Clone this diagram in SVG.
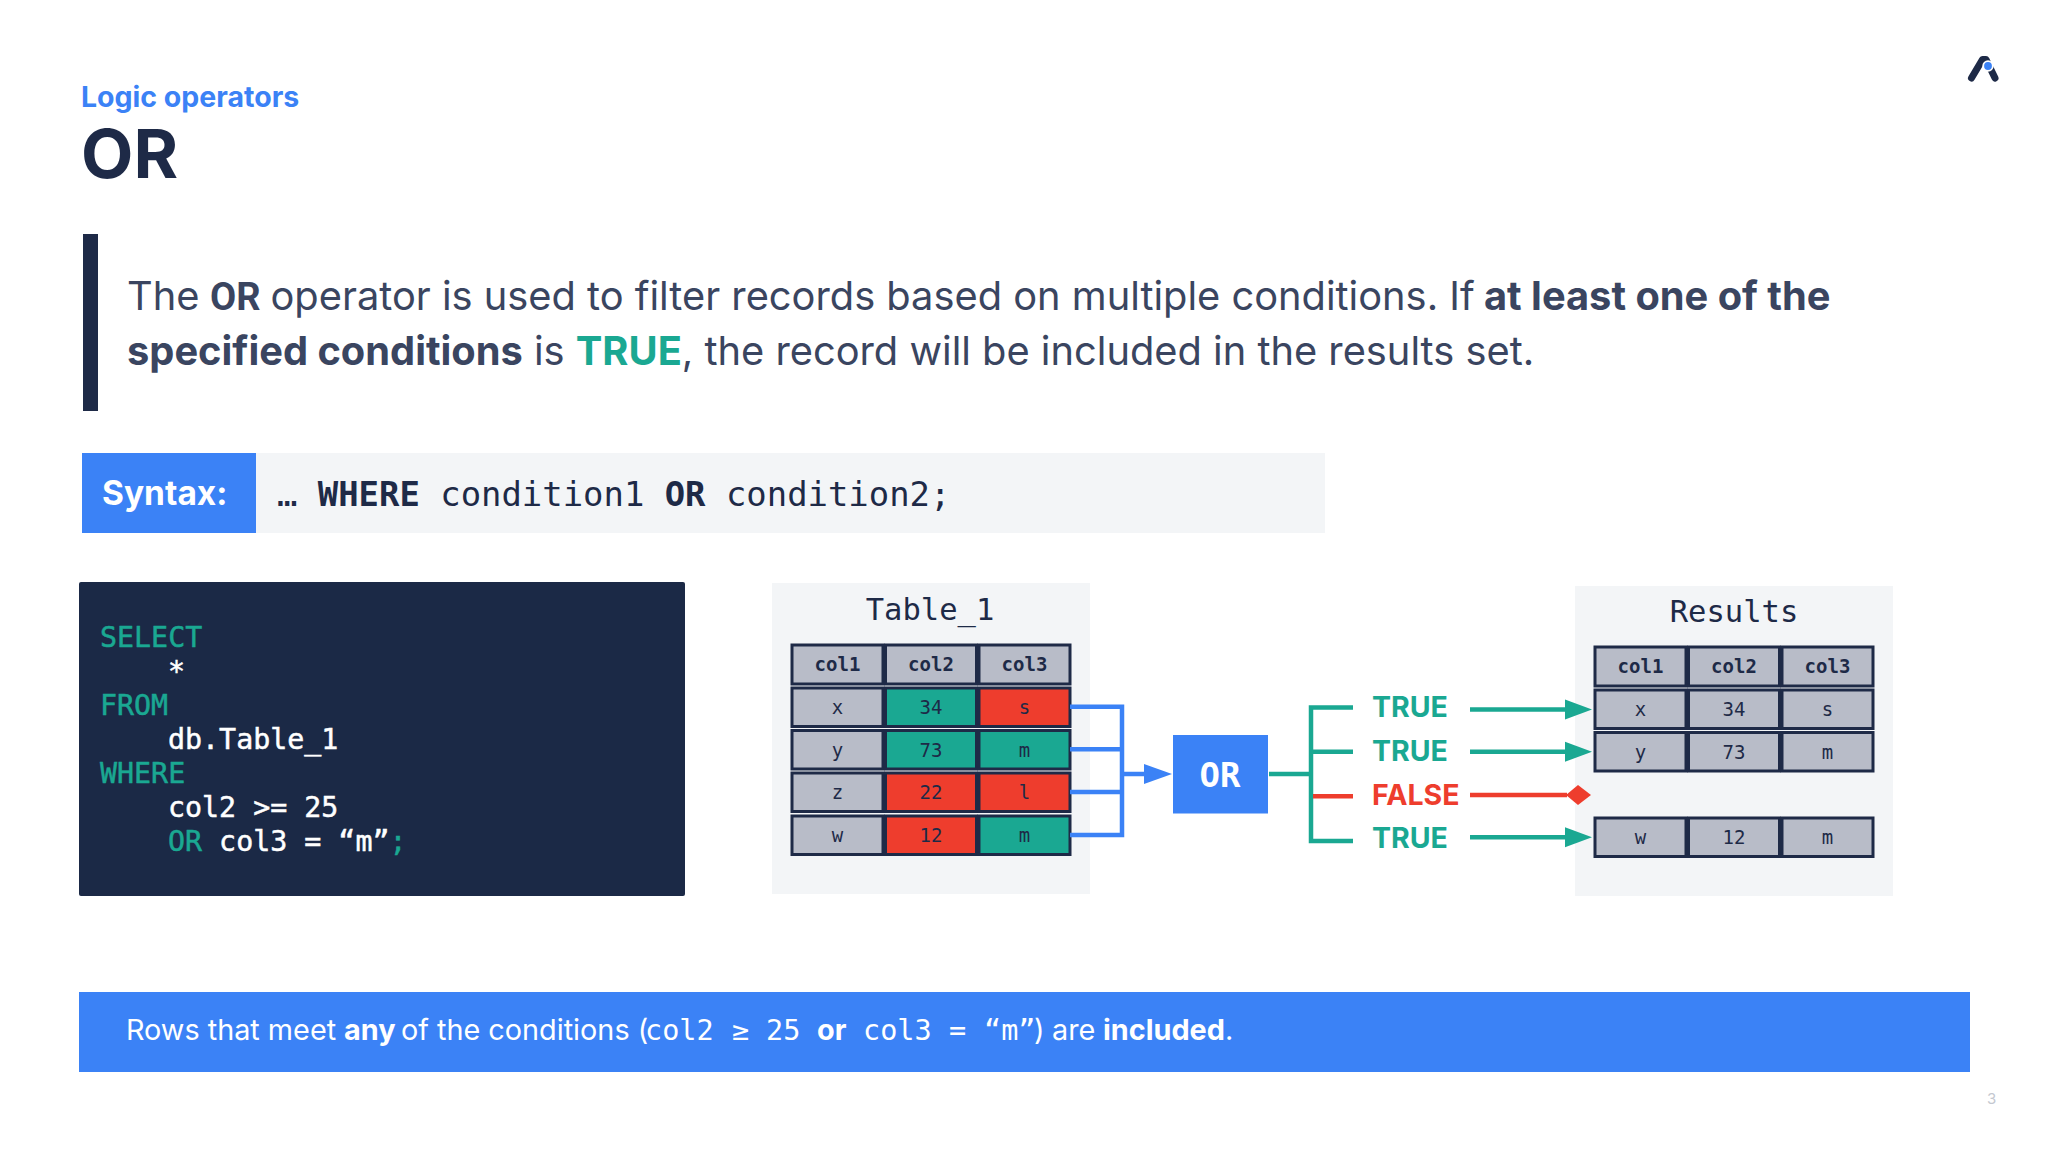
<svg xmlns="http://www.w3.org/2000/svg" width="2048" height="1152" viewBox="0 0 2048 1152">
<style>
text{font-family:Inter,"Liberation Sans",sans-serif}
text.m,.m text,.m{font-family:"DejaVu Sans Mono","Liberation Mono",monospace}
.rb{font-family:Roboto,"Liberation Sans",sans-serif;font-size:38px}
.b{font-weight:700}
.dk{fill:#1e2a47}
.gr{fill:#1aa892}
.rd{fill:#ee3d2d}
.wh{fill:#fff}
.panel{fill:#f3f5f7}
.c{stroke:#1e2a47;stroke-width:3}
.cg{fill:#b8bcc8}
.ct{fill:#1aa892}
.cr{fill:#ee3d2d}
.th{font-size:19px;font-weight:700;text-anchor:middle;fill:#1e2a47}
.td{font-size:19px;text-anchor:middle;fill:#1e2a47}
.pt{font-size:30.500px;text-anchor:middle;fill:#1e2a47}
.para{font-size:39.800px;fill:#3a4560}
.code{font-size:28.3px;stroke-width:.5px}
.code .gr{stroke:#1aa892}
.code .wh{stroke:#fff}
.tf{font-size:28.500px;font-weight:700}
.bar{font-size:28.800px;fill:#fff}
.bm{font-size:28.500px}
.l{fill:none;stroke-width:4.5}
</style>
<defs>
<marker id="hb" markerUnits="userSpaceOnUse" markerWidth="28" markerHeight="22" refX="1" refY="11" orient="auto"><path d="M0 1L28 11L0 21Z" fill="#3b82f6"/></marker>
<marker id="hg" markerUnits="userSpaceOnUse" markerWidth="28" markerHeight="22" refX="1" refY="11" orient="auto"><path d="M0 1L27 11L0 21Z" fill="#1aa892"/></marker>
<marker id="hr" markerUnits="userSpaceOnUse" markerWidth="26" markerHeight="22" refX="1" refY="11" orient="auto"><path d="M0 11L12 1L25 11L12 21Z" fill="#ee3d2d"/></marker>
</defs>
<rect width="2048" height="1152" fill="#fff"/>
<g id="header">
<text x="81" y="107" font-size="28.5" class="b" fill="#3b82f6">Logic operators</text>
<text x="81" y="178" font-size="68" class="b dk">OR</text>
</g>
<g id="logo" fill="none" stroke-linecap="round">
<path d="M1971.5 78L1982.500 59.500H1986L1995 78" stroke="#1e2a47" stroke-width="7" stroke-linejoin="round"/>
<circle cx="1988" cy="66" r="4.800" fill="#3b82f6" stroke="#fff" stroke-width="1.800"/>
</g>
<g id="intro">
<rect x="83" y="234" width="15" height="177" class="dk"/>
<text y="310" class="para"><tspan x="127">The</tspan><tspan x="210" class="b rb">OR</tspan><tspan x="270.500">operator is used to filter records based on multiple conditions. If</tspan><tspan x="1484" class="b">at least one of the</tspan></text>
<text x="127" y="365" class="para"><tspan class="b">specified conditions</tspan> is <tspan class="b gr">TRUE</tspan>, the record will be included in the results set.</text>
</g>
<g id="syntax">
<rect x="256" y="453" width="1069" height="80" class="panel"/>
<rect x="82" y="453" width="174" height="80" fill="#3b82f6"/>
<text x="102" y="505" font-size="33.500" class="b wh">Syntax:</text>
<text x="277" y="506" font-size="33.900" class="m dk" xml:space="preserve">… <tspan class="b">WHERE</tspan> condition1 <tspan class="b">OR</tspan> condition2;</text>
</g>
<g id="code">
<rect x="79" y="582" width="606" height="314" rx="2" fill="#1b2946"/>
<g class="m code">
<text x="100" y="647" class="gr">SELECT</text>
<text x="168" y="681" class="wh">*</text>
<text x="100" y="715" class="gr">FROM</text>
<text x="168" y="749" class="wh">db.Table_1</text>
<text x="100" y="783" class="gr">WHERE</text>
<text x="168" y="817" class="wh">col2 &gt;= 25</text>
<text x="168" y="851" class="wh" xml:space="preserve"><tspan class="gr">OR</tspan> col3 = “m”<tspan class="gr">;</tspan></text>
</g>
</g>
<g id="table-1">
<rect x="772" y="583" width="318" height="311" class="panel"/>
<text x="930" y="620" class="m pt">Table_1</text>
<g class="c">
<rect x="792" y="645" width="91" height="39" class="cg"/><rect x="885.500" y="645" width="91" height="39" class="cg"/><rect x="979" y="645" width="91" height="39" class="cg"/>
<rect x="792" y="688" width="91" height="38.500" class="cg"/><rect x="885.500" y="688" width="91" height="38.500" class="ct"/><rect x="979" y="688" width="91" height="38.500" class="cr"/>
<rect x="792" y="730.500" width="91" height="38.500" class="cg"/><rect x="885.500" y="730.500" width="91" height="38.500" class="ct"/><rect x="979" y="730.500" width="91" height="38.500" class="ct"/>
<rect x="792" y="773" width="91" height="38.500" class="cg"/><rect x="885.500" y="773" width="91" height="38.500" class="cr"/><rect x="979" y="773" width="91" height="38.500" class="cr"/>
<rect x="792" y="816" width="91" height="38.500" class="cg"/><rect x="885.500" y="816" width="91" height="38.500" class="cr"/><rect x="979" y="816" width="91" height="38.500" class="ct"/>
</g>
<g class="m">
<text x="837.500" y="671" class="th">col1</text><text x="931" y="671" class="th">col2</text><text x="1024.500" y="671" class="th">col3</text>
<text x="837.500" y="714" class="td">x</text><text x="931" y="714" class="td">34</text><text x="1024.500" y="714" class="td">s</text>
<text x="837.500" y="757" class="td">y</text><text x="931" y="757" class="td">73</text><text x="1024.500" y="757" class="td">m</text>
<text x="837.500" y="799" class="td">z</text><text x="931" y="799" class="td">22</text><text x="1024.500" y="799" class="td">l</text>
<text x="837.500" y="842" class="td">w</text><text x="931" y="842" class="td">12</text><text x="1024.500" y="842" class="td">m</text>
</g>
</g>
<g id="results">
<rect x="1575" y="586" width="318" height="310" class="panel"/>
<text x="1734" y="622" class="m pt">Results</text>
<g class="c cg">
<rect x="1595" y="647" width="91" height="39"/><rect x="1688.500" y="647" width="91" height="39"/><rect x="1782" y="647" width="91" height="39"/>
<rect x="1595" y="690" width="91" height="38.500"/><rect x="1688.500" y="690" width="91" height="38.500"/><rect x="1782" y="690" width="91" height="38.500"/>
<rect x="1595" y="732.500" width="91" height="38.500"/><rect x="1688.500" y="732.500" width="91" height="38.500"/><rect x="1782" y="732.500" width="91" height="38.500"/>
<rect x="1595" y="818" width="91" height="38.500"/><rect x="1688.500" y="818" width="91" height="38.500"/><rect x="1782" y="818" width="91" height="38.500"/>
</g>
<g class="m">
<text x="1640.500" y="673" class="th">col1</text><text x="1734" y="673" class="th">col2</text><text x="1827.500" y="673" class="th">col3</text>
<text x="1640.500" y="716" class="td">x</text><text x="1734" y="716" class="td">34</text><text x="1827.500" y="716" class="td">s</text>
<text x="1640.500" y="759" class="td">y</text><text x="1734" y="759" class="td">73</text><text x="1827.500" y="759" class="td">m</text>
<text x="1640.500" y="844" class="td">w</text><text x="1734" y="844" class="td">12</text><text x="1827.500" y="844" class="td">m</text>
</g>
</g>
<g id="or-node">
<rect x="1173" y="735" width="95" height="78.500" fill="#3b82f6"/>
<text x="1220" y="787" font-size="34" text-anchor="middle" class="m b wh">OR</text>
</g>
<g id="connectors">
<path class="l" stroke="#3b82f6" d="M1070 706.700H1122V835H1070M1070 749.300H1122M1070 792H1122"/>
<path class="l" stroke="#3b82f6" d="M1122 774H1145" marker-end="url(#hb)"/>
<path class="l" stroke="#1aa892" d="M1269 774H1311M1353 707.500H1311V841H1353M1311 751.700H1353"/>
<path class="l" stroke="#ee3d2d" d="M1313 796.300H1353"/>
<path class="l" stroke="#1aa892" d="M1470 709.500H1566" marker-end="url(#hg)"/>
<path class="l" stroke="#1aa892" d="M1470 751.700H1566" marker-end="url(#hg)"/>
<path class="l" stroke="#ee3d2d" d="M1470 795H1567" marker-end="url(#hr)"/>
<path class="l" stroke="#1aa892" d="M1470 837.300H1566" marker-end="url(#hg)"/>
</g>
<g id="or-outcomes">
<text x="1372" y="717" class="tf gr">TRUE</text>
<text x="1372" y="761" class="tf gr">TRUE</text>
<text x="1372" y="805" class="tf rd">FALSE</text>
<text x="1372" y="848" class="tf gr">TRUE</text>
</g>
<g id="note">
<rect x="79" y="992" width="1891" height="80" fill="#3b82f6"/>
<text y="1040" class="bar" xml:space="preserve"><tspan x="126">Rows that meet</tspan><tspan x="344" class="b">any</tspan><tspan x="401">of the conditions (</tspan><tspan x="645" class="m bm">col2</tspan><tspan x="732" class="m bm">≥</tspan><tspan x="766" class="m bm">25</tspan><tspan x="817" class="b">or</tspan><tspan x="863" class="m bm">col3</tspan><tspan x="949" class="m bm">=</tspan><tspan x="984" class="m bm">“m”</tspan><tspan x="1034">)</tspan><tspan x="1052">are</tspan><tspan x="1103" class="b">included</tspan><tspan>.</tspan></text>
</g>
<text id="page-number" x="1987" y="1104" font-size="15" fill="#c4c8d0">3</text>
</svg>
